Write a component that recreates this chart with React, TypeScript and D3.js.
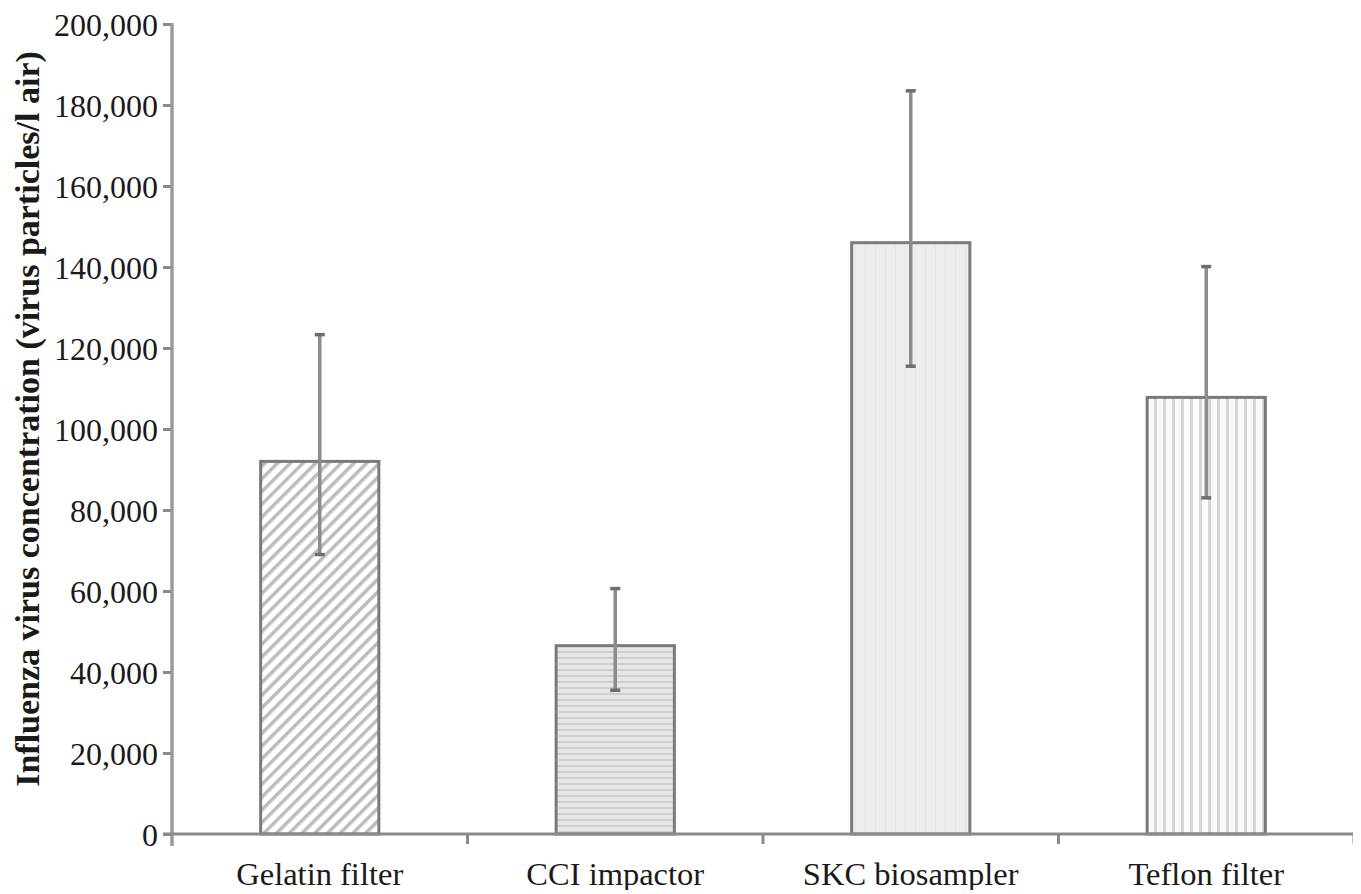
import React, { useEffect, useRef } from 'react';
import * as d3 from 'd3';

const categories = ['Gelatin filter', 'CCI impactor', 'SKC biosampler', 'Teflon filter'];
const means = [92000, 46500, 146000, 107800];
const errHigh = [123300, 60600, 183500, 140100];
const errLow = [69000, 35500, 115500, 83000];
const yTicks = [0, 20000, 40000, 60000, 80000, 100000, 120000, 140000, 160000, 180000, 200000];
const patterns = ['diag', 'horiz', 'solid', 'vert'];

const App: React.FC = () => {
  const svgRef = useRef<SVGSVGElement>(null);

  useEffect(() => {
    if (!svgRef.current) return;
    const svg = d3.select(svgRef.current);
    svg.selectAll('*').remove();

    const width = 1361;
    const height = 894;
    const margin = { top: 24, right: 7, bottom: 60, left: 172 };
    const x0 = margin.left;
    const x1 = width - margin.right;
    const yBase = height - margin.bottom;

    svg.attr('width', width).attr('height', height);

    const defs = svg.append('defs');

    // diagonal hatch
    const diag = defs.append('pattern')
      .attr('id', 'p-diag')
      .attr('patternUnits', 'userSpaceOnUse')
      .attr('width', 9).attr('height', 9)
      .attr('patternTransform', 'rotate(45)');
    diag.append('rect').attr('width', 9).attr('height', 9).attr('fill', '#fff');
    diag.append('rect').attr('width', 3.5).attr('height', 9).attr('fill', '#bcbcbc');

    // horizontal stripes
    const horiz = defs.append('pattern')
      .attr('id', 'p-horiz')
      .attr('patternUnits', 'userSpaceOnUse')
      .attr('width', 10).attr('height', 6);
    horiz.append('rect').attr('width', 10).attr('height', 6).attr('fill', '#e6e6e6');
    horiz.append('rect').attr('y', 3).attr('width', 10).attr('height', 2).attr('fill', '#cfcfcf');

    // near-solid light fill
    const solid = defs.append('pattern')
      .attr('id', 'p-solid')
      .attr('patternUnits', 'userSpaceOnUse')
      .attr('width', 10).attr('height', 8);
    solid.append('rect').attr('width', 10).attr('height', 8).attr('fill', '#eeeeee');
    solid.append('rect').attr('x', 5).attr('width', 1).attr('height', 8).attr('fill', '#e6e6e6');

    // vertical lines
    const vert = defs.append('pattern')
      .attr('id', 'p-vert')
      .attr('patternUnits', 'userSpaceOnUse')
      .attr('width', 9).attr('height', 10);
    vert.append('rect').attr('width', 9).attr('height', 10).attr('fill', '#fbfbfb');
    vert.append('rect').attr('x', 2).attr('width', 3).attr('height', 10).attr('fill', '#d6d6d6');

    const xScale = d3.scaleBand<string>()
      .domain(categories)
      .range([x0, x1])
      .paddingInner(0.6)
      .paddingOuter(0.3);

    const yScale = d3.scaleLinear()
      .domain([0, 200000])
      .range([yBase, margin.top]);

    const fmt = d3.format(',');
    const serif = '"Liberation Serif", "Times New Roman", serif';

    // bars
    svg.append('g')
      .selectAll('rect')
      .data(categories)
      .enter()
      .append('rect')
      .attr('x', d => xScale(d) || 0)
      .attr('y', (d, i) => yScale(means[i]))
      .attr('width', xScale.bandwidth())
      .attr('height', (d, i) => yBase - yScale(means[i]))
      .attr('fill', (d, i) => `url(#p-${patterns[i]})`)
      .attr('stroke', '#7a7a7a')
      .attr('stroke-width', 3);

    // error bars
    const err = svg.append('g');
    categories.forEach((c, i) => {
      const cx = (xScale(c) || 0) + xScale.bandwidth() / 2;
      err.append('line')
        .attr('x1', cx).attr('x2', cx)
        .attr('y1', yScale(errHigh[i])).attr('y2', yScale(errLow[i]))
        .attr('stroke', '#8c8c8c')
        .attr('stroke-width', 3.5);
      [errHigh[i], errLow[i]].forEach(v => {
        err.append('line')
          .attr('x1', cx - 5).attr('x2', cx + 5)
          .attr('y1', yScale(v)).attr('y2', yScale(v))
          .attr('stroke', '#6e6e6e')
          .attr('stroke-width', 3.5);
      });
    });

    // y axis
    const yAxis = svg.append('g')
      .attr('transform', `translate(${x0}, 0)`)
      .call(d3.axisLeft(yScale).tickValues(yTicks).tickFormat(d => fmt(d as number)).tickSize(9).tickPadding(5));
    yAxis.select('.domain').remove();
    yAxis.append('line')
      .attr('x1', 0).attr('x2', 0)
      .attr('y1', margin.top - 1).attr('y2', yBase + 12)
      .attr('stroke', '#9a9a9a')
      .attr('stroke-width', 3.5);
    yAxis.selectAll('.tick line')
      .attr('stroke', '#8a8a8a')
      .attr('stroke-width', 3);
    yAxis.selectAll('.tick text')
      .attr('fill', '#1a1a1a')
      .style('font-family', serif)
      .style('font-size', '32px')
      .attr('dy', '0.36em');

    // x axis
    const xg = svg.append('g');
    xg.append('line')
      .attr('x1', x0 - 9).attr('x2', width)
      .attr('y1', yBase).attr('y2', yBase)
      .attr('stroke', '#8a8a8a')
      .attr('stroke-width', 3);
    const step = xScale.step();
    categories.forEach(c => {
      const bx = (xScale(c) || 0) + xScale.bandwidth() + (step - xScale.bandwidth()) / 2;
      xg.append('line')
        .attr('x1', bx).attr('x2', bx)
        .attr('y1', yBase).attr('y2', yBase + 10)
        .attr('stroke', '#8a8a8a')
        .attr('stroke-width', 3);
    });
    xg.selectAll('text.cat')
      .data(categories)
      .enter()
      .append('text')
      .attr('class', 'cat')
      .attr('x', d => (xScale(d) || 0) + xScale.bandwidth() / 2)
      .attr('y', 885)
      .attr('text-anchor', 'middle')
      .style('font-family', serif)
      .style('font-size', '32.5px')
      .attr('fill', '#1a1a1a')
      .text(d => d);

    // y axis title
    svg.append('text')
      .attr('transform', `translate(39, 419) rotate(-90)`)
      .attr('text-anchor', 'middle')
      .style('font-family', serif)
      .style('font-size', '34px')
      .style('font-weight', 'bold')
      .attr('fill', '#1a1a1a')
      .text('Influenza virus concentration (virus particles/l air)');
  }, []);

  return (
    <div style={{ margin: -8, background: '#fff' }}>
      <svg ref={svgRef}></svg>
    </div>
  );
};

export default App;
